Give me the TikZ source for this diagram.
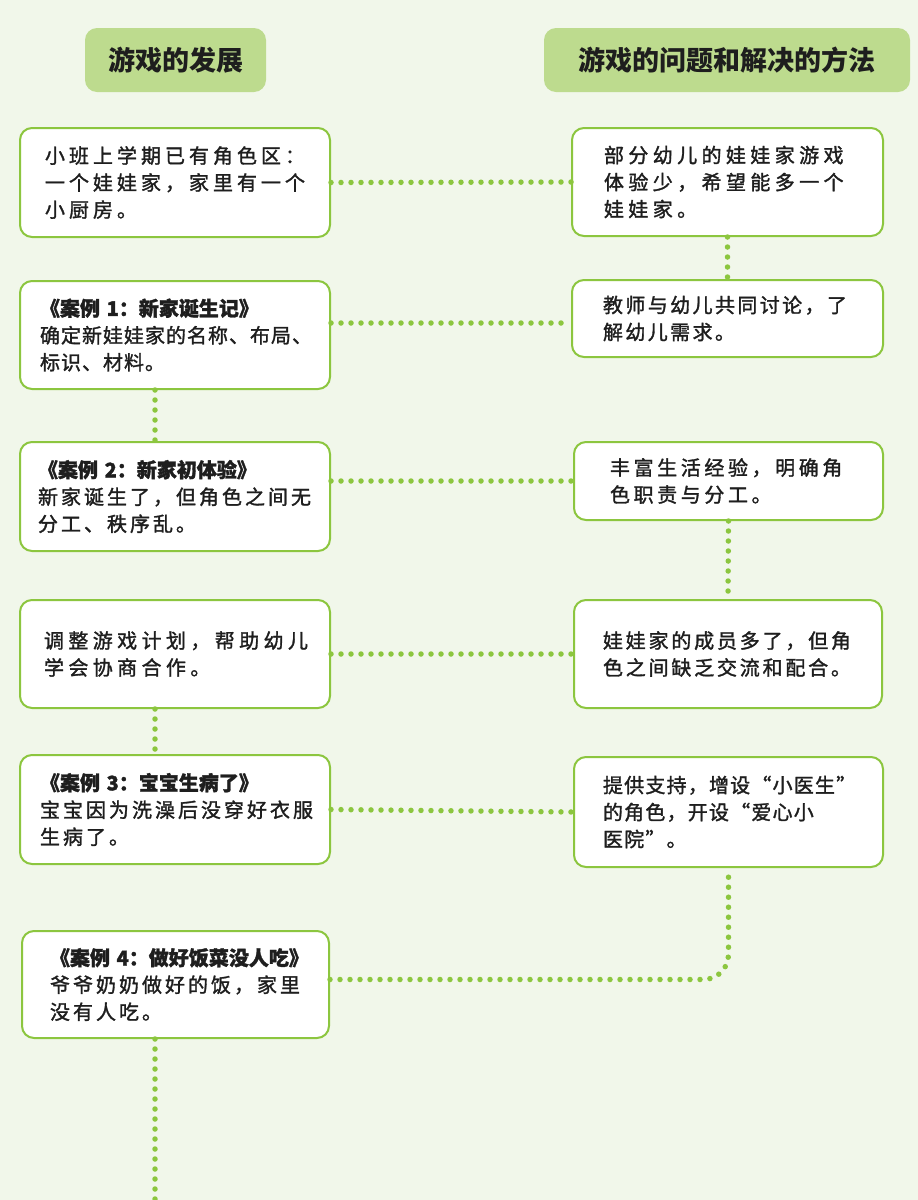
\documentclass[tikz,border=0pt]{standalone}
\usepackage{fontspec}
\setmainfont{Noto Sans CJK SC}
\definecolor{bg}{HTML}{F1F7EA}
\definecolor{hdr}{HTML}{BDDB8E}
\definecolor{grn}{HTML}{8CC63F}
\definecolor{ink}{HTML}{1E1E1E}
\newcommand{\trk}[1]{\addfontfeature{LetterSpace=#1}}
\newcommand{\ttl}[1]{\mbox{\bfseries\addfontfeature{LetterSpace=0}#1}}
\begin{document}
\begin{tikzpicture}[x=1pt,y=-1pt,
  hdrbox/.style={fill=hdr, rounded corners=12pt, minimum height=64pt, inner sep=0pt,
    font=\fontsize{27pt}{32pt}\selectfont\bfseries, text=ink},
  card/.style={draw=grn, line width=2pt, fill=white, rounded corners=12pt, align=left,
    inner ysep=0pt, text=ink, font=\fontsize{20pt}{27pt}\selectfont\addfontfeature{FakeBold=1.5}},
  dots/.style={draw=grn, line width=5.5pt, line cap=round, dash pattern=on 0pt off 10pt}
]
\fill[bg] (0,0) rectangle (918,1200);
\useasboundingbox (0,0) rectangle (918,1200);

% headers
\node[hdrbox, minimum width=181pt] (H1) at (175.5,60) {游戏的发展};
\node[hdrbox, minimum width=366pt] (H2) at (727,60) {游戏的问题和解决的方法};

% left column
\node[card, minimum width=310pt, minimum height=109pt, inner xsep=25pt, text width=260pt] (L1) at (175,182.5)
  {\trk{20}小班上学期已有角色区：\\一个娃娃家，家里有一个\\小厨房。};
\node[card, minimum width=310pt, minimum height=108pt, inner xsep=20pt, text width=270pt] (L2) at (175,335)
  {\ttl{《案例 1：新家诞生记》}\\\trk{5}确定新娃娃家的名称、布局、\\标识、材料。};
\node[card, minimum width=310pt, minimum height=109pt, inner xsep=18pt, text width=274pt] (L3) at (175,496.5)
  {\ttl{《案例 2：新家初体验》}\\\trk{15}新家诞生了，但角色之间无\\分工、秩序乱。};
\node[card, minimum width=310pt, minimum height=108pt, inner xsep=24pt, text width=262pt] (L4) at (175,654)
  {\trk{22}调整游戏计划，帮助幼儿\\学会协商合作。\\[6pt]};
\node[card, minimum width=310pt, minimum height=109pt, inner xsep=20pt, text width=270pt] (L5) at (175,809.5)
  {\ttl{《案例 3：宝宝生病了》}\\\trk{15}宝宝因为洗澡后没穿好衣服\\生病了。};
\node[card, minimum width=307pt, minimum height=107pt, inner xsep=28pt, text width=251pt] (L6) at (175.5,984.5)
  {\ttl{《案例 4：做好饭菜没人吃》}\\\trk{15}爷爷奶奶做好的饭，家里\\没有人吃。};

% right column
\node[card, minimum width=311pt, minimum height=108pt, inner xsep=32pt, text width=247pt] (R1) at (727.5,182)
  {\trk{22}部分幼儿的娃娃家游戏\\体验少，希望能多一个\\娃娃家。};
\node[card, minimum width=311pt, minimum height=77pt, inner xsep=31pt, text width=249pt] (R2) at (727.5,318.5)
  {\trk{12}教师与幼儿共同讨论，了\\解幼儿需求。};
\node[card, minimum width=309pt, minimum height=78pt, inner xsep=36pt, text width=237pt] (R3) at (728.5,481)
  {\trk{18}丰富生活经验，明确角\\色职责与分工。};
\node[card, minimum width=308pt, minimum height=108pt, inner xsep=29pt, text width=250pt] (R4) at (728,654)
  {\trk{14}娃娃家的成员多了，但角\\色之间缺乏交流和配合。};
\node[card, minimum width=309pt, minimum height=110pt, inner xsep=29pt, text width=251pt] (R5) at (728.5,812)
  {\trk{6}提供支持，增设“小医生”\\的角色，开设“爱心小\\医院”。};

% connectors
\coordinate (lx) at (155,0);
\coordinate (bot) at (155,1200);
\draw[dots] (L1.east) -- (R1.west);
\draw[dots] ([yshift=-4.5pt]L2.east |- R2.west) -- ([yshift=-4.5pt]R2.west);
\draw[dots] (L3.east |- R3.west) -- (R3.west);
\draw[dots] (L4.east) -- (R4.west);
\draw[dots] (L5.east) -- (R5.west);
\draw[dots, rounded corners=25pt] ([yshift=5pt]L6.east) -| (R5.south);
\draw[dots] (R1.south) -- (R2.north);
\draw[dots] (R3.south) -- (R4.north);
\draw[dots] (L2.south -| lx) -- (L3.north -| lx);
\draw[dots] (L4.south -| lx) -- (L5.north -| lx);
\draw[dots] (L6.south -| lx) -- (bot);
\end{tikzpicture}
\end{document}
